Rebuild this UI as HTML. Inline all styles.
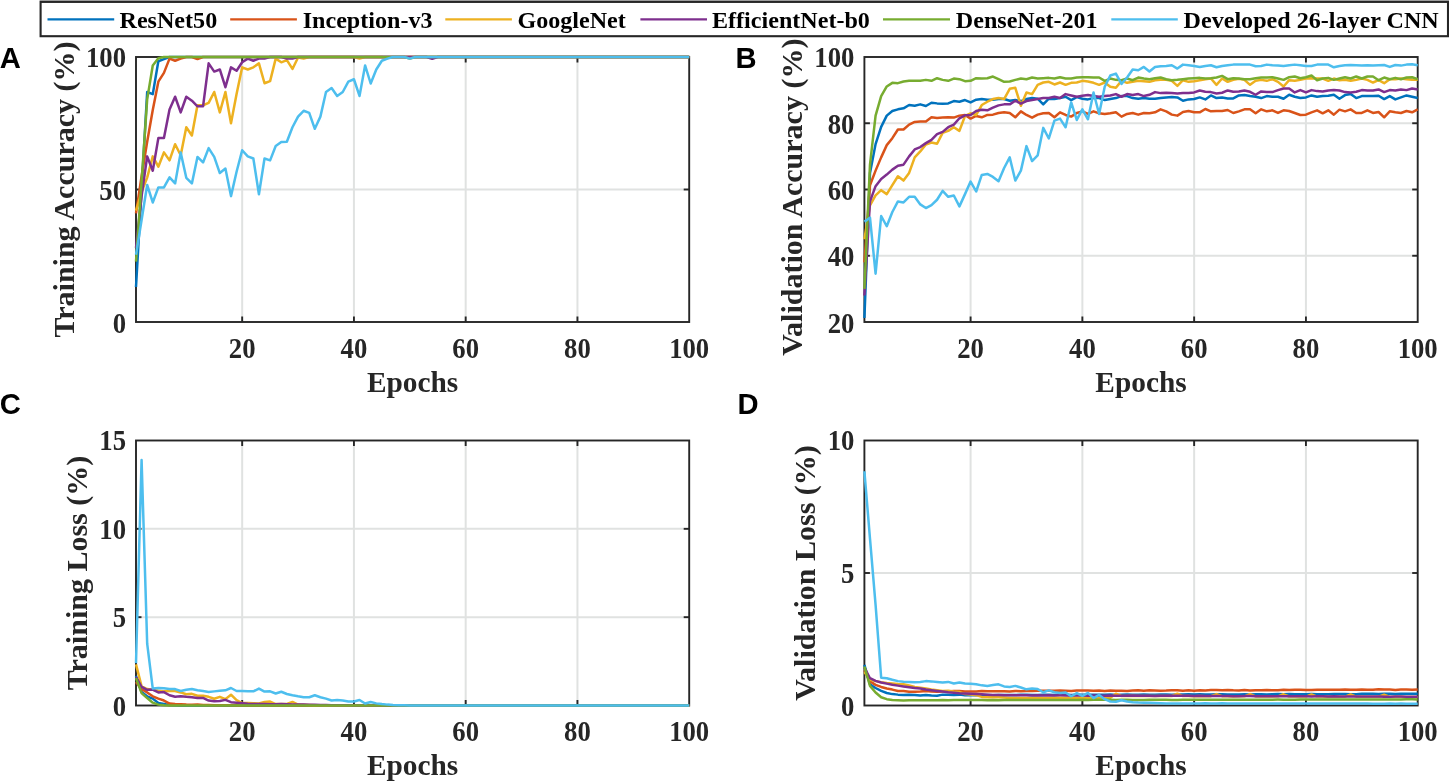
<!DOCTYPE html>
<html lang="en"><head><meta charset="utf-8"><title>Training curves</title>
<style>html,body{margin:0;padding:0;background:#fff}body{width:1449px;height:782px;overflow:hidden}svg{display:block}.t{font-family:"Liberation Serif","Times New Roman",serif;font-weight:bold;fill:#262626}.lg{font-family:"Liberation Serif","Times New Roman",serif;font-weight:bold;fill:#000}.pl{font-family:"Liberation Sans",Arial,sans-serif;font-weight:bold;fill:#000}</style></head><body>
<svg width="1449" height="782" viewBox="0 0 1449 782" style="will-change:transform">
<rect x="0" y="0" width="1449" height="782" fill="#fff"/>
<rect x="39.6" y="0" width="1409.4" height="1" fill="#b4b4b4"/><rect x="40.6" y="1.9" width="1407.4" height="34.3" fill="#fff" stroke="#262626" stroke-width="2.1"/>
<line x1="47.5" y1="19.3" x2="114.2" y2="19.3" stroke="#0072BD" stroke-width="2.2"/>
<text class="lg" x="119.5" y="27.5" font-size="24.1">ResNet50</text>
<line x1="230.2" y1="19.3" x2="296.9" y2="19.3" stroke="#D95319" stroke-width="2.2"/>
<text class="lg" x="302.7" y="27.5" font-size="24.1">Inception-v3</text>
<line x1="445.3" y1="19.3" x2="511.9" y2="19.3" stroke="#EDB120" stroke-width="2.2"/>
<text class="lg" x="517.4" y="27.5" font-size="24.1">GoogleNet</text>
<line x1="640.4" y1="19.3" x2="707.0" y2="19.3" stroke="#7E2F8E" stroke-width="2.2"/>
<text class="lg" x="712.0" y="27.5" font-size="24.1">EfficientNet-b0</text>
<line x1="883.0" y1="19.3" x2="950.0" y2="19.3" stroke="#77AC30" stroke-width="2.2"/>
<text class="lg" x="955.8" y="27.5" font-size="24.1">DenseNet-201</text>
<line x1="1111.3" y1="19.3" x2="1177.8" y2="19.3" stroke="#4DBEEE" stroke-width="2.2"/>
<text class="lg" x="1183.6" y="27.5" font-size="24.1">Developed 26-layer CNN</text>
<g>
<line x1="242.17" y1="57.00" x2="242.17" y2="322.00" stroke="#e0e2e1" stroke-width="2"/>
<line x1="353.93" y1="57.00" x2="353.93" y2="322.00" stroke="#e0e2e1" stroke-width="2"/>
<line x1="465.68" y1="57.00" x2="465.68" y2="322.00" stroke="#e0e2e1" stroke-width="2"/>
<line x1="577.44" y1="57.00" x2="577.44" y2="322.00" stroke="#e0e2e1" stroke-width="2"/>
<line x1="136.00" y1="189.50" x2="689.20" y2="189.50" stroke="#e0e2e1" stroke-width="2"/>
<rect x="136.00" y="57.00" width="553.20" height="265.00" fill="none" stroke="#262626" stroke-width="1.9"/>
<line x1="242.17" y1="322.00" x2="242.17" y2="316.50" stroke="#262626" stroke-width="1.9"/>
<line x1="242.17" y1="57.00" x2="242.17" y2="62.50" stroke="#262626" stroke-width="1.9"/>
<text class="t" transform="translate(242.17,357.90) scale(0.94,1)" font-size="28.4" text-anchor="middle">20</text>
<line x1="353.93" y1="322.00" x2="353.93" y2="316.50" stroke="#262626" stroke-width="1.9"/>
<line x1="353.93" y1="57.00" x2="353.93" y2="62.50" stroke="#262626" stroke-width="1.9"/>
<text class="t" transform="translate(353.93,357.90) scale(0.94,1)" font-size="28.4" text-anchor="middle">40</text>
<line x1="465.68" y1="322.00" x2="465.68" y2="316.50" stroke="#262626" stroke-width="1.9"/>
<line x1="465.68" y1="57.00" x2="465.68" y2="62.50" stroke="#262626" stroke-width="1.9"/>
<text class="t" transform="translate(465.68,357.90) scale(0.94,1)" font-size="28.4" text-anchor="middle">60</text>
<line x1="577.44" y1="322.00" x2="577.44" y2="316.50" stroke="#262626" stroke-width="1.9"/>
<line x1="577.44" y1="57.00" x2="577.44" y2="62.50" stroke="#262626" stroke-width="1.9"/>
<text class="t" transform="translate(577.44,357.90) scale(0.94,1)" font-size="28.4" text-anchor="middle">80</text>
<text class="t" transform="translate(689.20,357.90) scale(0.94,1)" font-size="28.4" text-anchor="middle">100</text>
<text class="t" transform="translate(126.00,332.70) scale(0.94,1)" font-size="28.4" text-anchor="end">0</text>
<line x1="136.00" y1="189.50" x2="141.50" y2="189.50" stroke="#262626" stroke-width="1.9"/>
<line x1="689.20" y1="189.50" x2="683.70" y2="189.50" stroke="#262626" stroke-width="1.9"/>
<text class="t" transform="translate(126.00,200.00) scale(0.94,1)" font-size="28.4" text-anchor="end">50</text>
<text class="t" transform="translate(126.00,67.00) scale(0.94,1)" font-size="28.4" text-anchor="end">100</text>
<polyline fill="none" stroke="#0072BD" stroke-width="2.5" stroke-linejoin="round" stroke-linecap="butt" points="136.00,287.02 141.59,189.50 147.18,91.98 152.76,94.10 158.35,61.24 163.94,59.12 169.53,57.00 175.12,57.00 180.70,57.00 186.29,57.00 191.88,57.00 197.47,57.00 203.05,57.00 208.64,57.00 214.23,57.00 219.82,57.00 225.41,57.00 230.99,57.00 236.58,57.00 242.17,57.00 247.76,57.00 253.35,57.00 258.93,57.00 264.52,57.00 270.11,57.00 275.70,57.00 281.28,57.00 286.87,57.00 292.46,57.00 298.05,57.00 303.64,57.00 309.22,57.00 314.81,57.00 320.40,57.00 325.99,57.00 331.58,57.00 337.16,57.00 342.75,57.00 348.34,57.00 353.93,57.00 359.52,57.00 365.10,57.00 370.69,57.00 376.28,57.00 381.87,57.00 387.45,57.00 393.04,57.00 398.63,57.00 404.22,57.00 409.81,57.00 415.39,57.00 420.98,57.00 426.57,57.00 432.16,57.00 437.75,57.00 443.33,57.00 448.92,57.00 454.51,57.00 460.10,57.00 465.68,57.00 471.27,57.00 476.86,57.00 482.45,57.00 488.04,57.00 493.62,57.00 499.21,57.00 504.80,57.00 510.39,57.00 515.98,57.00 521.56,57.00 527.15,57.00 532.74,57.00 538.33,57.00 543.92,57.00 549.50,57.00 555.09,57.00 560.68,57.00 566.27,57.00 571.85,57.00 577.44,57.00 583.03,57.00 588.62,57.00 594.21,57.00 599.79,57.00 605.38,57.00 610.97,57.00 616.56,57.00 622.15,57.00 627.73,57.00 633.32,57.00 638.91,57.00 644.50,57.00 650.08,57.00 655.67,57.00 661.26,57.00 666.85,57.00 672.44,57.00 678.02,57.00 683.61,57.00 689.20,57.00"/>
<polyline fill="none" stroke="#D95319" stroke-width="2.5" stroke-linejoin="round" stroke-linecap="butt" points="136.00,213.35 141.59,176.25 147.18,141.80 152.76,110.00 158.35,81.65 163.94,72.90 169.53,58.59 175.12,60.71 180.70,58.59 186.29,57.00 191.88,57.00 197.47,59.12 203.05,57.00 208.64,57.00 214.23,57.00 219.82,57.00 225.41,57.00 230.99,57.00 236.58,57.00 242.17,57.00 247.76,57.00 253.35,57.00 258.93,57.00 264.52,57.00 270.11,57.00 275.70,57.00 281.28,57.00 286.87,57.00 292.46,57.00 298.05,57.00 303.64,57.00 309.22,57.00 314.81,57.00 320.40,57.00 325.99,57.00 331.58,57.00 337.16,57.00 342.75,57.00 348.34,57.00 353.93,57.00 359.52,57.00 365.10,57.00 370.69,57.00 376.28,57.00 381.87,57.00 387.45,57.00 393.04,57.00 398.63,57.00 404.22,57.00 409.81,57.00 415.39,57.00 420.98,57.00 426.57,57.00 432.16,57.00 437.75,57.00 443.33,57.00 448.92,57.00 454.51,57.00 460.10,57.00 465.68,57.00 471.27,57.00 476.86,57.00 482.45,57.00 488.04,57.00 493.62,57.00 499.21,57.00 504.80,57.00 510.39,57.00 515.98,57.00 521.56,57.00 527.15,57.00 532.74,57.00 538.33,57.00 543.92,57.00 549.50,57.00 555.09,57.00 560.68,57.00 566.27,57.00 571.85,57.00 577.44,57.00 583.03,57.00 588.62,57.00 594.21,57.00 599.79,57.00 605.38,57.00 610.97,57.00 616.56,57.00 622.15,57.00 627.73,57.00 633.32,57.00 638.91,57.00 644.50,57.00 650.08,57.00 655.67,57.00 661.26,57.00 666.85,57.00 672.44,57.00 678.02,57.00 683.61,57.00 689.20,57.00"/>
<polyline fill="none" stroke="#EDB120" stroke-width="2.5" stroke-linejoin="round" stroke-linecap="butt" points="136.00,210.70 141.59,192.15 147.18,177.58 152.76,156.38 158.35,166.71 163.94,152.40 169.53,160.35 175.12,144.19 180.70,155.31 186.29,127.22 191.88,135.44 197.47,105.23 203.05,105.23 208.64,102.84 214.23,91.98 219.82,112.39 225.41,91.98 230.99,123.25 236.58,94.10 242.17,67.34 247.76,69.46 253.35,67.34 258.93,63.36 264.52,83.24 270.11,81.11 275.70,58.59 281.28,62.30 286.87,60.18 292.46,68.93 298.05,57.53 303.64,58.59 309.22,57.00 314.81,57.00 320.40,57.00 325.99,57.00 331.58,57.00 337.16,57.00 342.75,57.00 348.34,57.00 353.93,57.00 359.52,58.59 365.10,57.00 370.69,57.00 376.28,57.00 381.87,57.00 387.45,58.06 393.04,57.00 398.63,57.00 404.22,57.00 409.81,57.00 415.39,57.00 420.98,57.00 426.57,57.00 432.16,57.00 437.75,57.00 443.33,57.00 448.92,57.00 454.51,57.00 460.10,57.00 465.68,57.00 471.27,57.00 476.86,57.00 482.45,57.00 488.04,57.00 493.62,57.00 499.21,57.00 504.80,57.00 510.39,57.00 515.98,57.00 521.56,57.00 527.15,57.00 532.74,57.00 538.33,57.00 543.92,57.00 549.50,57.00 555.09,57.00 560.68,57.00 566.27,57.00 571.85,57.00 577.44,57.00 583.03,57.00 588.62,57.00 594.21,57.00 599.79,57.00 605.38,57.00 610.97,57.00 616.56,57.00 622.15,57.00 627.73,57.00 633.32,57.00 638.91,57.00 644.50,57.00 650.08,57.00 655.67,57.00 661.26,57.00 666.85,57.00 672.44,57.00 678.02,57.00 683.61,57.00 689.20,57.00"/>
<polyline fill="none" stroke="#7E2F8E" stroke-width="2.5" stroke-linejoin="round" stroke-linecap="butt" points="136.00,247.80 141.59,196.12 147.18,156.38 152.76,170.69 158.35,138.09 163.94,138.09 169.53,109.47 175.12,96.75 180.70,112.39 186.29,96.75 191.88,100.72 197.47,106.29 203.05,106.29 208.64,63.36 214.23,71.58 219.82,69.46 225.41,87.21 230.99,67.34 236.58,70.78 242.17,62.30 247.76,58.59 253.35,60.71 258.93,58.59 264.52,58.59 270.11,57.00 275.70,57.00 281.28,57.00 286.87,58.59 292.46,58.59 298.05,57.00 303.64,57.00 309.22,57.00 314.81,57.00 320.40,57.00 325.99,57.00 331.58,57.00 337.16,57.00 342.75,57.00 348.34,57.00 353.93,57.00 359.52,57.00 365.10,57.00 370.69,57.00 376.28,57.00 381.87,57.00 387.45,57.00 393.04,57.00 398.63,57.00 404.22,57.00 409.81,57.00 415.39,57.00 420.98,57.00 426.57,57.00 432.16,58.86 437.75,57.00 443.33,57.00 448.92,57.00 454.51,57.00 460.10,57.00 465.68,57.00 471.27,57.00 476.86,57.00 482.45,57.00 488.04,57.00 493.62,57.00 499.21,57.00 504.80,57.00 510.39,57.00 515.98,57.00 521.56,57.00 527.15,57.00 532.74,57.00 538.33,57.00 543.92,57.00 549.50,57.00 555.09,57.00 560.68,57.00 566.27,57.00 571.85,57.00 577.44,57.00 583.03,57.00 588.62,57.00 594.21,57.00 599.79,57.00 605.38,57.00 610.97,57.00 616.56,57.00 622.15,57.00 627.73,57.00 633.32,57.00 638.91,57.00 644.50,57.00 650.08,57.00 655.67,57.00 661.26,57.00 666.85,57.00 672.44,57.00 678.02,57.00 683.61,57.00 689.20,57.00"/>
<polyline fill="none" stroke="#77AC30" stroke-width="2.5" stroke-linejoin="round" stroke-linecap="butt" points="136.00,261.58 141.59,181.55 147.18,99.40 152.76,65.48 158.35,58.32 163.94,57.00 169.53,57.00 175.12,57.00 180.70,57.00 186.29,57.00 191.88,57.00 197.47,57.00 203.05,57.00 208.64,57.00 214.23,57.00 219.82,57.00 225.41,57.00 230.99,57.00 236.58,57.00 242.17,57.00 247.76,57.00 253.35,57.00 258.93,57.00 264.52,57.00 270.11,57.00 275.70,57.00 281.28,57.00 286.87,57.00 292.46,57.00 298.05,57.00 303.64,57.00 309.22,57.00 314.81,57.00 320.40,57.00 325.99,57.00 331.58,57.00 337.16,57.00 342.75,57.00 348.34,57.00 353.93,57.00 359.52,57.00 365.10,57.00 370.69,57.00 376.28,57.00 381.87,57.00 387.45,57.00 393.04,57.00 398.63,57.00 404.22,57.00 409.81,58.59 415.39,57.00 420.98,57.00 426.57,57.00 432.16,57.00 437.75,57.00 443.33,57.00 448.92,57.00 454.51,57.00 460.10,57.00 465.68,57.00 471.27,57.00 476.86,57.00 482.45,57.00 488.04,57.00 493.62,57.00 499.21,57.00 504.80,57.00 510.39,57.00 515.98,57.00 521.56,57.00 527.15,57.00 532.74,57.00 538.33,57.00 543.92,57.00 549.50,57.00 555.09,57.00 560.68,57.00 566.27,57.00 571.85,57.00 577.44,57.00 583.03,57.00 588.62,57.00 594.21,57.00 599.79,57.00 605.38,57.00 610.97,57.00 616.56,57.00 622.15,57.00 627.73,57.00 633.32,57.00 638.91,57.00 644.50,57.00 650.08,57.00 655.67,57.00 661.26,57.00 666.85,57.00 672.44,57.00 678.02,57.00 683.61,57.00 689.20,57.00"/>
<polyline fill="none" stroke="#4DBEEE" stroke-width="2.5" stroke-linejoin="round" stroke-linecap="butt" points="136.00,254.69 141.59,219.98 147.18,185.00 152.76,202.49 158.35,187.38 163.94,187.38 169.53,177.31 175.12,183.41 180.70,152.40 186.29,177.84 191.88,183.41 197.47,156.91 203.05,162.47 208.64,148.16 214.23,156.91 219.82,173.07 225.41,168.56 230.99,196.12 236.58,171.75 242.17,150.28 247.76,156.38 253.35,158.50 258.93,194.27 264.52,158.50 270.11,160.35 275.70,146.04 281.28,142.06 286.87,141.80 292.46,127.22 298.05,116.62 303.64,110.79 309.22,112.91 314.81,128.81 320.40,116.62 325.99,91.98 331.58,88.01 337.16,95.96 342.75,91.98 348.34,81.65 353.93,79.26 359.52,95.96 365.10,65.48 370.69,83.50 376.28,69.46 381.87,60.71 387.45,58.59 393.04,57.00 398.63,57.00 404.22,57.00 409.81,58.59 415.39,57.00 420.98,57.00 426.57,57.00 432.16,57.00 437.75,57.00 443.33,57.00 448.92,57.00 454.51,57.00 460.10,57.00 465.68,57.00 471.27,57.00 476.86,57.00 482.45,57.00 488.04,57.00 493.62,57.00 499.21,57.00 504.80,57.00 510.39,57.00 515.98,57.00 521.56,57.00 527.15,57.00 532.74,57.00 538.33,57.00 543.92,57.00 549.50,57.00 555.09,57.00 560.68,57.00 566.27,57.00 571.85,57.00 577.44,57.00 583.03,57.00 588.62,57.00 594.21,57.00 599.79,57.00 605.38,57.00 610.97,57.00 616.56,57.00 622.15,57.00 627.73,57.00 633.32,57.00 638.91,57.00 644.50,57.00 650.08,57.00 655.67,57.00 661.26,57.00 666.85,57.00 672.44,57.00 678.02,57.00 683.61,57.00 689.20,57.00"/>
<text class="t" transform="translate(412.60,391.70) scale(0.979,1)" font-size="30" text-anchor="middle">Epochs</text>
<text class="t" transform="translate(73.50,189.50) rotate(-90)" font-size="30" text-anchor="middle" letter-spacing="0" word-spacing="0">Training Accuracy (%)</text>
<text class="pl" x="-0.3" y="67.8" font-size="29.2">A</text>
</g>
<g>
<line x1="970.59" y1="57.00" x2="970.59" y2="322.00" stroke="#e0e2e1" stroke-width="2"/>
<line x1="1082.37" y1="57.00" x2="1082.37" y2="322.00" stroke="#e0e2e1" stroke-width="2"/>
<line x1="1194.14" y1="57.00" x2="1194.14" y2="322.00" stroke="#e0e2e1" stroke-width="2"/>
<line x1="1305.92" y1="57.00" x2="1305.92" y2="322.00" stroke="#e0e2e1" stroke-width="2"/>
<line x1="864.40" y1="255.75" x2="1417.70" y2="255.75" stroke="#e0e2e1" stroke-width="2"/>
<line x1="864.40" y1="189.50" x2="1417.70" y2="189.50" stroke="#e0e2e1" stroke-width="2"/>
<line x1="864.40" y1="123.25" x2="1417.70" y2="123.25" stroke="#e0e2e1" stroke-width="2"/>
<rect x="864.40" y="57.00" width="553.30" height="265.00" fill="none" stroke="#262626" stroke-width="1.9"/>
<line x1="970.59" y1="322.00" x2="970.59" y2="316.50" stroke="#262626" stroke-width="1.9"/>
<line x1="970.59" y1="57.00" x2="970.59" y2="62.50" stroke="#262626" stroke-width="1.9"/>
<text class="t" transform="translate(970.59,357.90) scale(0.94,1)" font-size="28.4" text-anchor="middle">20</text>
<line x1="1082.37" y1="322.00" x2="1082.37" y2="316.50" stroke="#262626" stroke-width="1.9"/>
<line x1="1082.37" y1="57.00" x2="1082.37" y2="62.50" stroke="#262626" stroke-width="1.9"/>
<text class="t" transform="translate(1082.37,357.90) scale(0.94,1)" font-size="28.4" text-anchor="middle">40</text>
<line x1="1194.14" y1="322.00" x2="1194.14" y2="316.50" stroke="#262626" stroke-width="1.9"/>
<line x1="1194.14" y1="57.00" x2="1194.14" y2="62.50" stroke="#262626" stroke-width="1.9"/>
<text class="t" transform="translate(1194.14,357.90) scale(0.94,1)" font-size="28.4" text-anchor="middle">60</text>
<line x1="1305.92" y1="322.00" x2="1305.92" y2="316.50" stroke="#262626" stroke-width="1.9"/>
<line x1="1305.92" y1="57.00" x2="1305.92" y2="62.50" stroke="#262626" stroke-width="1.9"/>
<text class="t" transform="translate(1305.92,357.90) scale(0.94,1)" font-size="28.4" text-anchor="middle">80</text>
<text class="t" transform="translate(1417.70,357.90) scale(0.94,1)" font-size="28.4" text-anchor="middle">100</text>
<text class="t" transform="translate(854.40,332.70) scale(0.94,1)" font-size="28.4" text-anchor="end">20</text>
<line x1="864.40" y1="255.75" x2="869.90" y2="255.75" stroke="#262626" stroke-width="1.9"/>
<line x1="1417.70" y1="255.75" x2="1412.20" y2="255.75" stroke="#262626" stroke-width="1.9"/>
<text class="t" transform="translate(854.40,266.25) scale(0.94,1)" font-size="28.4" text-anchor="end">40</text>
<line x1="864.40" y1="189.50" x2="869.90" y2="189.50" stroke="#262626" stroke-width="1.9"/>
<line x1="1417.70" y1="189.50" x2="1412.20" y2="189.50" stroke="#262626" stroke-width="1.9"/>
<text class="t" transform="translate(854.40,200.00) scale(0.94,1)" font-size="28.4" text-anchor="end">60</text>
<line x1="864.40" y1="123.25" x2="869.90" y2="123.25" stroke="#262626" stroke-width="1.9"/>
<line x1="1417.70" y1="123.25" x2="1412.20" y2="123.25" stroke="#262626" stroke-width="1.9"/>
<text class="t" transform="translate(854.40,133.75) scale(0.94,1)" font-size="28.4" text-anchor="end">80</text>
<text class="t" transform="translate(854.40,67.00) scale(0.94,1)" font-size="28.4" text-anchor="end">100</text>
<polyline fill="none" stroke="#0072BD" stroke-width="2.5" stroke-linejoin="round" stroke-linecap="butt" points="864.40,318.02 869.99,172.94 875.58,144.12 881.17,126.89 886.76,115.63 892.34,110.99 897.93,109.34 903.52,108.34 909.11,105.03 914.70,105.69 920.29,104.37 925.88,106.02 931.47,102.71 937.06,103.38 942.64,103.71 948.23,103.38 953.82,101.06 959.41,101.72 965.00,100.06 970.59,102.38 976.18,99.73 981.77,99.07 987.36,99.73 992.94,99.73 998.53,99.07 1004.12,99.07 1009.71,100.73 1015.30,100.06 1020.89,101.06 1026.48,99.07 1032.07,98.08 1037.66,98.74 1043.24,104.37 1048.83,98.74 1054.42,99.07 1060.01,98.08 1065.60,96.75 1071.19,100.06 1076.78,97.08 1082.37,98.74 1087.96,99.40 1093.54,98.08 1099.13,98.08 1104.72,100.06 1110.31,99.07 1115.90,98.08 1121.49,96.09 1127.08,96.09 1132.67,98.08 1138.26,98.74 1143.84,98.08 1149.43,98.74 1155.02,98.74 1160.61,98.08 1166.20,97.41 1171.79,97.08 1177.38,97.41 1182.97,100.73 1188.56,99.40 1194.14,99.07 1199.73,97.41 1205.32,99.40 1210.91,95.42 1216.50,98.08 1222.09,97.41 1227.68,98.41 1233.27,98.41 1238.86,95.42 1244.44,95.09 1250.03,96.09 1255.62,96.75 1261.21,98.08 1266.80,96.09 1272.39,96.75 1277.98,96.75 1283.57,98.74 1289.16,94.76 1294.74,96.75 1300.33,98.08 1305.92,97.41 1311.51,95.42 1317.10,96.75 1322.69,96.09 1328.28,95.76 1333.87,94.76 1339.46,98.74 1345.04,95.09 1350.63,94.10 1356.22,98.08 1361.81,96.09 1367.40,96.09 1372.99,96.09 1378.58,95.76 1384.17,99.07 1389.76,96.09 1395.34,99.40 1400.93,97.41 1406.52,95.42 1412.11,96.75 1417.70,98.08"/>
<polyline fill="none" stroke="#D95319" stroke-width="2.5" stroke-linejoin="round" stroke-linecap="butt" points="864.40,262.38 869.99,185.19 875.58,170.62 881.17,157.37 886.76,145.11 892.34,138.16 897.93,129.54 903.52,129.54 909.11,124.58 914.70,121.92 920.29,121.59 925.88,121.59 931.47,117.29 937.06,117.95 942.64,117.62 948.23,117.29 953.82,117.62 959.41,115.63 965.00,114.97 970.59,118.61 976.18,115.96 981.77,117.29 987.36,114.97 992.94,114.64 998.53,112.98 1004.12,112.32 1009.71,112.98 1015.30,117.29 1020.89,111.33 1026.48,114.97 1032.07,117.62 1037.66,114.64 1043.24,113.31 1048.83,112.98 1054.42,117.29 1060.01,112.32 1065.60,114.97 1071.19,116.62 1076.78,112.98 1082.37,111.33 1087.96,113.98 1093.54,111.33 1099.13,113.31 1104.72,113.98 1110.31,113.31 1115.90,112.32 1121.49,116.62 1127.08,113.98 1132.67,112.98 1138.26,114.64 1143.84,112.98 1149.43,113.31 1155.02,112.32 1160.61,109.34 1166.20,111.33 1171.79,114.64 1177.38,115.63 1182.97,111.99 1188.56,110.99 1194.14,112.32 1199.73,112.32 1205.32,109.01 1210.91,111.33 1216.50,110.99 1222.09,110.99 1227.68,110.00 1233.27,112.98 1238.86,111.33 1244.44,109.34 1250.03,109.34 1255.62,113.31 1261.21,109.34 1266.80,111.33 1272.39,110.33 1277.98,112.98 1283.57,110.33 1289.16,110.99 1294.74,112.98 1300.33,114.97 1305.92,114.64 1311.51,112.32 1317.10,110.33 1322.69,113.31 1328.28,110.33 1333.87,114.64 1339.46,109.67 1345.04,111.33 1350.63,109.34 1356.22,112.98 1361.81,112.98 1367.40,110.33 1372.99,112.98 1378.58,111.99 1384.17,117.29 1389.76,111.33 1395.34,112.32 1400.93,112.98 1406.52,110.99 1412.11,112.32 1417.70,109.34"/>
<polyline fill="none" stroke="#EDB120" stroke-width="2.5" stroke-linejoin="round" stroke-linecap="butt" points="864.40,239.19 869.99,205.40 875.58,195.46 881.17,190.16 886.76,194.14 892.34,185.19 897.93,176.25 903.52,180.56 909.11,172.94 914.70,157.37 920.29,151.41 925.88,144.45 931.47,142.46 937.06,143.79 942.64,132.86 948.23,130.87 953.82,127.23 959.41,130.87 965.00,115.96 970.59,113.31 976.18,114.97 981.77,105.03 987.36,101.72 992.94,99.07 998.53,98.08 1004.12,99.07 1009.71,88.80 1015.30,87.81 1020.89,105.69 1026.48,92.44 1032.07,94.10 1037.66,84.83 1043.24,82.51 1048.83,81.84 1054.42,84.49 1060.01,82.51 1065.60,84.83 1071.19,82.84 1076.78,82.51 1082.37,80.85 1087.96,81.51 1093.54,82.84 1099.13,84.83 1104.72,82.51 1110.31,86.81 1115.90,87.81 1121.49,80.85 1127.08,82.84 1132.67,81.84 1138.26,80.85 1143.84,81.18 1149.43,81.84 1155.02,80.19 1160.61,79.86 1166.20,79.86 1171.79,80.85 1177.38,85.82 1182.97,80.19 1188.56,81.84 1194.14,81.18 1199.73,80.19 1205.32,79.19 1210.91,78.53 1216.50,84.83 1222.09,78.53 1227.68,81.84 1233.27,79.86 1238.86,78.86 1244.44,79.86 1250.03,84.83 1255.62,80.85 1261.21,79.86 1266.80,80.85 1272.39,79.19 1277.98,81.84 1283.57,86.48 1289.16,80.19 1294.74,80.85 1300.33,79.86 1305.92,78.53 1311.51,78.20 1317.10,78.53 1322.69,78.53 1328.28,80.85 1333.87,78.53 1339.46,80.19 1345.04,79.86 1350.63,80.85 1356.22,79.86 1361.81,78.53 1367.40,79.86 1372.99,82.51 1378.58,80.19 1384.17,83.17 1389.76,79.19 1395.34,79.19 1400.93,78.53 1406.52,79.19 1412.11,79.86 1417.70,79.86"/>
<polyline fill="none" stroke="#7E2F8E" stroke-width="2.5" stroke-linejoin="round" stroke-linecap="butt" points="864.40,295.50 869.99,201.43 875.58,186.19 881.17,178.90 886.76,174.59 892.34,169.62 897.93,165.65 903.52,164.66 909.11,156.38 914.70,149.42 920.29,147.10 925.88,143.12 931.47,139.81 937.06,134.18 942.64,131.86 948.23,127.23 953.82,124.58 959.41,118.28 965.00,115.30 970.59,114.97 976.18,110.99 981.77,109.67 987.36,110.33 992.94,107.68 998.53,105.36 1004.12,104.37 1009.71,104.37 1015.30,100.73 1020.89,103.71 1026.48,101.06 1032.07,100.06 1037.66,99.07 1043.24,98.08 1048.83,98.08 1054.42,96.75 1060.01,98.08 1065.60,94.10 1071.19,95.42 1076.78,96.75 1082.37,95.76 1087.96,95.09 1093.54,96.09 1099.13,96.75 1104.72,96.09 1110.31,95.42 1115.90,94.10 1121.49,96.75 1127.08,94.10 1132.67,95.09 1138.26,94.10 1143.84,96.09 1149.43,94.76 1155.02,92.11 1160.61,93.11 1166.20,92.77 1171.79,93.11 1177.38,93.44 1182.97,93.11 1188.56,93.11 1194.14,92.44 1199.73,90.46 1205.32,91.78 1210.91,92.11 1216.50,93.44 1222.09,92.77 1227.68,90.46 1233.27,91.78 1238.86,91.45 1244.44,90.46 1250.03,91.78 1255.62,94.76 1261.21,91.45 1266.80,92.11 1272.39,92.11 1277.98,90.12 1283.57,88.47 1289.16,88.47 1294.74,92.44 1300.33,90.12 1305.92,92.44 1311.51,90.12 1317.10,91.12 1322.69,91.45 1328.28,90.46 1333.87,90.12 1339.46,90.46 1345.04,92.11 1350.63,92.44 1356.22,91.78 1361.81,90.12 1367.40,90.46 1372.99,90.46 1378.58,89.46 1384.17,92.11 1389.76,90.12 1395.34,90.46 1400.93,89.46 1406.52,90.12 1412.11,88.47 1417.70,89.46"/>
<polyline fill="none" stroke="#77AC30" stroke-width="2.5" stroke-linejoin="round" stroke-linecap="butt" points="864.40,288.88 869.99,164.66 875.58,115.63 881.17,96.09 886.76,86.48 892.34,82.84 897.93,83.17 903.52,81.51 909.11,80.85 914.70,80.85 920.29,80.85 925.88,79.86 931.47,80.85 937.06,78.20 942.64,79.86 948.23,80.85 953.82,78.53 959.41,79.19 965.00,81.18 970.59,80.85 976.18,78.20 981.77,78.53 987.36,78.20 992.94,76.54 998.53,79.19 1004.12,81.84 1009.71,81.51 1015.30,79.86 1020.89,78.53 1026.48,79.19 1032.07,77.54 1037.66,78.53 1043.24,78.20 1048.83,77.87 1054.42,78.53 1060.01,77.21 1065.60,78.53 1071.19,78.53 1076.78,77.54 1082.37,77.21 1087.96,77.21 1093.54,77.54 1099.13,77.54 1104.72,80.85 1110.31,78.53 1115.90,79.86 1121.49,80.19 1127.08,78.53 1132.67,80.19 1138.26,77.54 1143.84,78.53 1149.43,79.19 1155.02,78.20 1160.61,77.54 1166.20,79.19 1171.79,80.19 1177.38,79.86 1182.97,79.19 1188.56,78.53 1194.14,78.20 1199.73,77.87 1205.32,78.53 1210.91,78.20 1216.50,77.54 1222.09,75.88 1227.68,79.19 1233.27,78.20 1238.86,78.53 1244.44,79.19 1250.03,79.19 1255.62,78.20 1261.21,77.54 1266.80,77.54 1272.39,77.21 1277.98,78.53 1283.57,79.86 1289.16,77.21 1294.74,76.54 1300.33,78.20 1305.92,77.21 1311.51,75.55 1317.10,80.19 1322.69,78.53 1328.28,77.87 1333.87,79.86 1339.46,78.53 1345.04,77.21 1350.63,78.53 1356.22,76.54 1361.81,78.53 1367.40,76.54 1372.99,76.54 1378.58,80.19 1384.17,77.54 1389.76,79.19 1395.34,77.87 1400.93,79.19 1406.52,77.54 1412.11,77.21 1417.70,79.19"/>
<polyline fill="none" stroke="#4DBEEE" stroke-width="2.5" stroke-linejoin="round" stroke-linecap="butt" points="864.40,221.63 869.99,217.66 875.58,273.64 881.17,216.00 886.76,226.27 892.34,212.02 897.93,201.43 903.52,202.42 909.11,196.79 914.70,196.79 920.29,204.41 925.88,208.05 931.47,205.07 937.06,199.77 942.64,190.82 948.23,196.79 953.82,195.46 959.41,206.39 965.00,194.14 970.59,181.55 976.18,191.49 981.77,174.92 987.36,173.93 992.94,176.91 998.53,181.22 1004.12,167.97 1009.71,157.37 1015.30,180.56 1020.89,170.62 1026.48,146.11 1032.07,161.01 1037.66,155.38 1043.24,127.89 1048.83,138.49 1054.42,120.60 1060.01,118.61 1065.60,127.23 1071.19,102.38 1076.78,119.94 1082.37,109.34 1087.96,119.27 1093.54,92.44 1099.13,113.98 1104.72,86.81 1110.31,75.55 1115.90,73.56 1121.49,83.83 1127.08,77.54 1132.67,69.59 1138.26,70.25 1143.84,66.94 1149.43,71.58 1155.02,66.94 1160.61,66.27 1166.20,65.94 1171.79,65.28 1177.38,68.59 1182.97,64.62 1188.56,65.28 1194.14,65.94 1199.73,66.94 1205.32,65.94 1210.91,65.28 1216.50,67.27 1222.09,65.94 1227.68,65.28 1233.27,64.62 1238.86,64.62 1244.44,64.62 1250.03,64.62 1255.62,66.27 1261.21,65.94 1266.80,64.62 1272.39,65.28 1277.98,65.61 1283.57,65.94 1289.16,65.28 1294.74,64.62 1300.33,65.28 1305.92,65.94 1311.51,65.94 1317.10,64.62 1322.69,64.62 1328.28,64.62 1333.87,67.27 1339.46,65.94 1345.04,65.28 1350.63,64.95 1356.22,65.28 1361.81,65.61 1367.40,65.28 1372.99,65.61 1378.58,65.28 1384.17,64.95 1389.76,66.94 1395.34,64.95 1400.93,65.61 1406.52,64.62 1412.11,64.29 1417.70,65.28"/>
<text class="t" transform="translate(1141.05,391.70) scale(0.979,1)" font-size="30" text-anchor="middle">Epochs</text>
<text class="t" transform="translate(801.70,197.20) rotate(-90)" font-size="30" text-anchor="middle" letter-spacing="0" word-spacing="0">Validation Accuracy (%)</text>
<text class="pl" x="735.6" y="67.8" font-size="29.2">B</text>
</g>
<g>
<line x1="242.17" y1="440.50" x2="242.17" y2="705.50" stroke="#e0e2e1" stroke-width="2"/>
<line x1="353.93" y1="440.50" x2="353.93" y2="705.50" stroke="#e0e2e1" stroke-width="2"/>
<line x1="465.68" y1="440.50" x2="465.68" y2="705.50" stroke="#e0e2e1" stroke-width="2"/>
<line x1="577.44" y1="440.50" x2="577.44" y2="705.50" stroke="#e0e2e1" stroke-width="2"/>
<line x1="136.00" y1="617.17" x2="689.20" y2="617.17" stroke="#e0e2e1" stroke-width="2"/>
<line x1="136.00" y1="528.83" x2="689.20" y2="528.83" stroke="#e0e2e1" stroke-width="2"/>
<rect x="136.00" y="440.50" width="553.20" height="265.00" fill="none" stroke="#262626" stroke-width="1.9"/>
<line x1="242.17" y1="705.50" x2="242.17" y2="700.00" stroke="#262626" stroke-width="1.9"/>
<line x1="242.17" y1="440.50" x2="242.17" y2="446.00" stroke="#262626" stroke-width="1.9"/>
<text class="t" transform="translate(242.17,740.80) scale(0.94,1)" font-size="28.4" text-anchor="middle">20</text>
<line x1="353.93" y1="705.50" x2="353.93" y2="700.00" stroke="#262626" stroke-width="1.9"/>
<line x1="353.93" y1="440.50" x2="353.93" y2="446.00" stroke="#262626" stroke-width="1.9"/>
<text class="t" transform="translate(353.93,740.80) scale(0.94,1)" font-size="28.4" text-anchor="middle">40</text>
<line x1="465.68" y1="705.50" x2="465.68" y2="700.00" stroke="#262626" stroke-width="1.9"/>
<line x1="465.68" y1="440.50" x2="465.68" y2="446.00" stroke="#262626" stroke-width="1.9"/>
<text class="t" transform="translate(465.68,740.80) scale(0.94,1)" font-size="28.4" text-anchor="middle">60</text>
<line x1="577.44" y1="705.50" x2="577.44" y2="700.00" stroke="#262626" stroke-width="1.9"/>
<line x1="577.44" y1="440.50" x2="577.44" y2="446.00" stroke="#262626" stroke-width="1.9"/>
<text class="t" transform="translate(577.44,740.80) scale(0.94,1)" font-size="28.4" text-anchor="middle">80</text>
<text class="t" transform="translate(689.20,740.80) scale(0.94,1)" font-size="28.4" text-anchor="middle">100</text>
<text class="t" transform="translate(126.00,716.20) scale(0.94,1)" font-size="28.4" text-anchor="end">0</text>
<line x1="136.00" y1="617.17" x2="141.50" y2="617.17" stroke="#262626" stroke-width="1.9"/>
<line x1="689.20" y1="617.17" x2="683.70" y2="617.17" stroke="#262626" stroke-width="1.9"/>
<text class="t" transform="translate(126.00,627.07) scale(0.94,1)" font-size="28.4" text-anchor="end">5</text>
<line x1="136.00" y1="528.83" x2="141.50" y2="528.83" stroke="#262626" stroke-width="1.9"/>
<line x1="689.20" y1="528.83" x2="683.70" y2="528.83" stroke="#262626" stroke-width="1.9"/>
<text class="t" transform="translate(126.00,538.73) scale(0.94,1)" font-size="28.4" text-anchor="end">10</text>
<text class="t" transform="translate(126.00,450.40) scale(0.94,1)" font-size="28.4" text-anchor="end">15</text>
<polyline fill="none" stroke="#0072BD" stroke-width="2.5" stroke-linejoin="round" stroke-linecap="butt" points="136.00,675.82 141.59,691.90 147.18,696.31 152.76,698.61 158.35,703.03 163.94,703.91 169.53,704.97 175.12,705.32 180.70,705.50 186.29,705.50 191.88,705.50 197.47,705.50 203.05,705.50 208.64,705.50 214.23,705.50 219.82,705.50 225.41,705.50 230.99,705.50 236.58,705.50 242.17,705.50 247.76,705.50 253.35,705.50 258.93,705.50 264.52,705.50 270.11,705.50 275.70,705.50 281.28,705.50 286.87,705.50 292.46,705.50 298.05,705.50 303.64,705.50 309.22,705.50 314.81,705.50 320.40,705.50 325.99,705.50 331.58,705.50 337.16,705.50 342.75,705.50 348.34,705.50 353.93,705.50 359.52,705.50 365.10,705.50 370.69,705.50 376.28,705.50 381.87,705.50 387.45,705.50 393.04,705.50 398.63,705.50 404.22,705.50 409.81,705.50 415.39,705.50 420.98,705.50 426.57,705.50 432.16,705.50 437.75,705.50 443.33,705.50 448.92,705.50 454.51,705.50 460.10,705.50 465.68,705.50 471.27,705.50 476.86,705.50 482.45,705.50 488.04,705.50 493.62,705.50 499.21,705.50 504.80,705.50 510.39,705.50 515.98,705.50 521.56,705.50 527.15,705.50 532.74,705.50 538.33,705.50 543.92,705.50 549.50,705.50 555.09,705.50 560.68,705.50 566.27,705.50 571.85,705.50 577.44,705.50 583.03,705.50 588.62,705.50 594.21,705.50 599.79,705.50 605.38,705.50 610.97,705.50 616.56,705.50 622.15,705.50 627.73,705.50 633.32,705.50 638.91,705.50 644.50,705.50 650.08,705.50 655.67,705.50 661.26,705.50 666.85,705.50 672.44,705.50 678.02,705.50 683.61,705.50 689.20,705.50"/>
<polyline fill="none" stroke="#D95319" stroke-width="2.5" stroke-linejoin="round" stroke-linecap="butt" points="136.00,682.00 141.59,689.25 147.18,692.43 152.76,696.31 158.35,698.61 163.94,700.55 169.53,703.56 175.12,704.09 180.70,704.26 186.29,704.62 191.88,704.71 197.47,704.44 203.05,704.97 208.64,704.97 214.23,705.15 219.82,705.15 225.41,705.32 230.99,705.32 236.58,705.50 242.17,705.50 247.76,705.50 253.35,705.50 258.93,705.50 264.52,705.50 270.11,705.50 275.70,705.50 281.28,705.50 286.87,705.50 292.46,705.50 298.05,705.50 303.64,705.50 309.22,705.50 314.81,705.50 320.40,705.50 325.99,705.50 331.58,705.50 337.16,705.50 342.75,705.50 348.34,705.50 353.93,705.50 359.52,705.50 365.10,705.50 370.69,705.50 376.28,705.50 381.87,705.50 387.45,705.50 393.04,705.50 398.63,705.50 404.22,705.50 409.81,705.50 415.39,705.50 420.98,705.50 426.57,705.50 432.16,705.50 437.75,705.50 443.33,705.50 448.92,705.50 454.51,705.50 460.10,705.50 465.68,705.50 471.27,705.50 476.86,705.50 482.45,705.50 488.04,705.50 493.62,705.50 499.21,705.50 504.80,705.50 510.39,705.50 515.98,705.50 521.56,705.50 527.15,705.50 532.74,705.50 538.33,705.50 543.92,705.50 549.50,705.50 555.09,705.50 560.68,705.50 566.27,705.50 571.85,705.50 577.44,705.50 583.03,705.50 588.62,705.50 594.21,705.50 599.79,705.50 605.38,705.50 610.97,705.50 616.56,705.50 622.15,705.50 627.73,705.50 633.32,705.50 638.91,705.50 644.50,705.50 650.08,705.50 655.67,705.50 661.26,705.50 666.85,705.50 672.44,705.50 678.02,705.50 683.61,705.50 689.20,705.50"/>
<polyline fill="none" stroke="#EDB120" stroke-width="2.5" stroke-linejoin="round" stroke-linecap="butt" points="136.00,664.34 141.59,686.42 147.18,689.07 152.76,689.78 158.35,690.84 163.94,691.37 169.53,691.01 175.12,691.01 180.70,692.43 186.29,694.19 191.88,693.84 197.47,695.78 203.05,695.78 208.64,696.84 214.23,698.79 219.82,696.84 225.41,699.14 230.99,694.72 236.58,700.20 242.17,703.03 247.76,703.03 253.35,703.20 258.93,703.56 264.52,701.97 270.11,701.61 275.70,704.09 281.28,704.09 286.87,703.91 292.46,701.97 298.05,704.62 303.64,704.79 309.22,704.97 314.81,705.15 320.40,705.32 325.99,705.50 331.58,705.50 337.16,705.50 342.75,705.50 348.34,705.50 353.93,705.50 359.52,705.50 365.10,705.50 370.69,705.50 376.28,705.50 381.87,705.50 387.45,705.50 393.04,705.50 398.63,705.50 404.22,705.50 409.81,705.50 415.39,705.50 420.98,705.50 426.57,705.50 432.16,705.50 437.75,705.50 443.33,705.50 448.92,705.50 454.51,705.50 460.10,705.50 465.68,705.50 471.27,705.50 476.86,705.50 482.45,705.50 488.04,705.50 493.62,705.50 499.21,705.50 504.80,705.50 510.39,705.50 515.98,705.50 521.56,705.50 527.15,705.50 532.74,705.50 538.33,705.50 543.92,705.50 549.50,705.50 555.09,705.50 560.68,705.50 566.27,705.50 571.85,705.50 577.44,705.50 583.03,705.50 588.62,705.50 594.21,705.50 599.79,705.50 605.38,705.50 610.97,705.50 616.56,705.50 622.15,705.50 627.73,705.50 633.32,705.50 638.91,705.50 644.50,705.50 650.08,705.50 655.67,705.50 661.26,705.50 666.85,705.50 672.44,705.50 678.02,705.50 683.61,705.50 689.20,705.50"/>
<polyline fill="none" stroke="#7E2F8E" stroke-width="2.5" stroke-linejoin="round" stroke-linecap="butt" points="136.00,677.23 141.59,686.95 147.18,689.78 152.76,689.60 158.35,692.43 163.94,692.07 169.53,695.25 175.12,696.67 180.70,696.31 186.29,696.84 191.88,697.20 197.47,697.90 203.05,697.90 208.64,700.55 214.23,701.26 219.82,701.08 225.41,699.85 230.99,702.14 236.58,702.67 242.17,703.20 247.76,703.73 253.35,703.91 258.93,704.09 264.52,704.09 270.11,704.26 275.70,704.26 281.28,704.09 286.87,704.26 292.46,704.44 298.05,704.62 303.64,704.62 309.22,704.79 314.81,704.79 320.40,704.97 325.99,704.97 331.58,705.15 337.16,705.15 342.75,705.32 348.34,705.32 353.93,705.50 359.52,705.50 365.10,705.50 370.69,705.50 376.28,705.50 381.87,705.50 387.45,705.50 393.04,705.50 398.63,705.50 404.22,705.50 409.81,705.50 415.39,705.50 420.98,705.50 426.57,705.50 432.16,705.50 437.75,705.50 443.33,705.50 448.92,705.50 454.51,705.50 460.10,705.50 465.68,705.50 471.27,705.50 476.86,705.50 482.45,705.50 488.04,705.50 493.62,705.50 499.21,705.50 504.80,705.50 510.39,705.50 515.98,705.50 521.56,705.50 527.15,705.50 532.74,705.50 538.33,705.50 543.92,705.50 549.50,705.50 555.09,705.50 560.68,705.50 566.27,705.50 571.85,705.50 577.44,705.50 583.03,705.50 588.62,705.50 594.21,705.50 599.79,705.50 605.38,705.50 610.97,705.50 616.56,705.50 622.15,705.50 627.73,705.50 633.32,705.50 638.91,705.50 644.50,705.50 650.08,705.50 655.67,705.50 661.26,705.50 666.85,705.50 672.44,705.50 678.02,705.50 683.61,705.50 689.20,705.50"/>
<polyline fill="none" stroke="#77AC30" stroke-width="2.5" stroke-linejoin="round" stroke-linecap="butt" points="136.00,678.12 141.59,693.13 147.18,698.08 152.76,702.67 158.35,704.62 163.94,705.15 169.53,705.50 175.12,705.50 180.70,705.50 186.29,705.50 191.88,705.50 197.47,705.50 203.05,705.50 208.64,705.50 214.23,705.50 219.82,705.50 225.41,705.50 230.99,705.50 236.58,705.50 242.17,705.50 247.76,705.50 253.35,705.50 258.93,705.50 264.52,705.50 270.11,705.50 275.70,705.50 281.28,705.50 286.87,705.50 292.46,705.50 298.05,705.50 303.64,705.50 309.22,705.50 314.81,705.50 320.40,705.50 325.99,705.50 331.58,705.50 337.16,705.50 342.75,705.50 348.34,705.50 353.93,705.50 359.52,705.50 365.10,705.50 370.69,705.50 376.28,705.50 381.87,705.50 387.45,705.50 393.04,705.50 398.63,705.50 404.22,705.50 409.81,705.50 415.39,705.50 420.98,705.50 426.57,705.50 432.16,705.50 437.75,705.50 443.33,705.50 448.92,705.50 454.51,705.50 460.10,705.50 465.68,705.50 471.27,705.50 476.86,705.50 482.45,705.50 488.04,705.50 493.62,705.50 499.21,705.50 504.80,705.50 510.39,705.50 515.98,705.50 521.56,705.50 527.15,705.50 532.74,705.50 538.33,705.50 543.92,705.50 549.50,705.50 555.09,705.50 560.68,705.50 566.27,705.50 571.85,705.50 577.44,705.50 583.03,705.50 588.62,705.50 594.21,705.50 599.79,705.50 605.38,705.50 610.97,705.50 616.56,705.50 622.15,705.50 627.73,705.50 633.32,705.50 638.91,705.50 644.50,705.50 650.08,705.50 655.67,705.50 661.26,705.50 666.85,705.50 672.44,705.50 678.02,705.50 683.61,705.50 689.20,705.50"/>
<polyline fill="none" stroke="#4DBEEE" stroke-width="2.5" stroke-linejoin="round" stroke-linecap="butt" points="136.00,663.10 141.59,459.93 147.18,643.67 152.76,688.54 158.35,688.01 163.94,688.36 169.53,688.89 175.12,689.07 180.70,691.01 186.29,689.78 191.88,689.07 197.47,690.31 203.05,691.01 208.64,691.90 214.23,691.37 219.82,690.84 225.41,690.31 230.99,688.01 236.58,691.01 242.17,691.01 247.76,691.37 253.35,691.37 258.93,688.54 264.52,691.54 270.11,691.37 275.70,693.49 281.28,691.72 286.87,694.02 292.46,695.25 298.05,696.31 303.64,697.20 309.22,697.20 314.81,695.25 320.40,697.20 325.99,698.61 331.58,700.55 337.16,700.02 342.75,700.55 348.34,701.44 353.93,701.44 359.52,700.02 365.10,703.56 370.69,701.97 376.28,703.38 381.87,704.09 387.45,704.62 393.04,704.97 398.63,705.15 404.22,705.32 409.81,705.50 415.39,705.50 420.98,705.50 426.57,705.50 432.16,705.50 437.75,705.50 443.33,705.50 448.92,705.50 454.51,705.50 460.10,705.50 465.68,705.50 471.27,705.50 476.86,705.50 482.45,705.50 488.04,705.50 493.62,705.50 499.21,705.50 504.80,705.50 510.39,705.50 515.98,705.50 521.56,705.50 527.15,705.50 532.74,705.50 538.33,705.50 543.92,705.50 549.50,705.50 555.09,705.50 560.68,705.50 566.27,705.50 571.85,705.50 577.44,705.50 583.03,705.50 588.62,705.50 594.21,705.50 599.79,705.50 605.38,705.50 610.97,705.50 616.56,705.50 622.15,705.50 627.73,705.50 633.32,705.50 638.91,705.50 644.50,705.50 650.08,705.50 655.67,705.50 661.26,705.50 666.85,705.50 672.44,705.50 678.02,705.50 683.61,705.50 689.20,705.50"/>
<text class="t" transform="translate(412.60,775.20) scale(0.979,1)" font-size="30" text-anchor="middle">Epochs</text>
<text class="t" transform="translate(87.20,573.00) rotate(-90)" font-size="30" text-anchor="middle" letter-spacing="0" word-spacing="0">Training Loss (%)</text>
<text class="pl" x="-0.3" y="413.9" font-size="29.2">C</text>
</g>
<g>
<line x1="970.59" y1="440.50" x2="970.59" y2="705.50" stroke="#e0e2e1" stroke-width="2"/>
<line x1="1082.37" y1="440.50" x2="1082.37" y2="705.50" stroke="#e0e2e1" stroke-width="2"/>
<line x1="1194.14" y1="440.50" x2="1194.14" y2="705.50" stroke="#e0e2e1" stroke-width="2"/>
<line x1="1305.92" y1="440.50" x2="1305.92" y2="705.50" stroke="#e0e2e1" stroke-width="2"/>
<line x1="864.40" y1="573.00" x2="1417.70" y2="573.00" stroke="#e0e2e1" stroke-width="2"/>
<rect x="864.40" y="440.50" width="553.30" height="265.00" fill="none" stroke="#262626" stroke-width="1.9"/>
<line x1="970.59" y1="705.50" x2="970.59" y2="700.00" stroke="#262626" stroke-width="1.9"/>
<line x1="970.59" y1="440.50" x2="970.59" y2="446.00" stroke="#262626" stroke-width="1.9"/>
<text class="t" transform="translate(970.59,740.80) scale(0.94,1)" font-size="28.4" text-anchor="middle">20</text>
<line x1="1082.37" y1="705.50" x2="1082.37" y2="700.00" stroke="#262626" stroke-width="1.9"/>
<line x1="1082.37" y1="440.50" x2="1082.37" y2="446.00" stroke="#262626" stroke-width="1.9"/>
<text class="t" transform="translate(1082.37,740.80) scale(0.94,1)" font-size="28.4" text-anchor="middle">40</text>
<line x1="1194.14" y1="705.50" x2="1194.14" y2="700.00" stroke="#262626" stroke-width="1.9"/>
<line x1="1194.14" y1="440.50" x2="1194.14" y2="446.00" stroke="#262626" stroke-width="1.9"/>
<text class="t" transform="translate(1194.14,740.80) scale(0.94,1)" font-size="28.4" text-anchor="middle">60</text>
<line x1="1305.92" y1="705.50" x2="1305.92" y2="700.00" stroke="#262626" stroke-width="1.9"/>
<line x1="1305.92" y1="440.50" x2="1305.92" y2="446.00" stroke="#262626" stroke-width="1.9"/>
<text class="t" transform="translate(1305.92,740.80) scale(0.94,1)" font-size="28.4" text-anchor="middle">80</text>
<text class="t" transform="translate(1417.70,740.80) scale(0.94,1)" font-size="28.4" text-anchor="middle">100</text>
<text class="t" transform="translate(854.40,716.20) scale(0.94,1)" font-size="28.4" text-anchor="end">0</text>
<line x1="864.40" y1="573.00" x2="869.90" y2="573.00" stroke="#262626" stroke-width="1.9"/>
<line x1="1417.70" y1="573.00" x2="1412.20" y2="573.00" stroke="#262626" stroke-width="1.9"/>
<text class="t" transform="translate(854.40,582.90) scale(0.94,1)" font-size="28.4" text-anchor="end">5</text>
<text class="t" transform="translate(854.40,450.40) scale(0.94,1)" font-size="28.4" text-anchor="end">10</text>
<polyline fill="none" stroke="#0072BD" stroke-width="2.5" stroke-linejoin="round" stroke-linecap="butt" points="864.40,664.96 869.99,684.30 875.58,688.01 881.17,690.92 886.76,693.04 892.34,694.11 897.93,694.63 903.52,694.90 909.11,694.63 914.70,694.90 920.29,695.56 925.88,694.90 931.47,695.43 937.06,695.70 942.64,694.63 948.23,694.63 953.82,694.90 959.41,694.63 965.00,695.16 970.59,694.90 976.18,695.16 981.77,694.90 987.36,694.98 992.94,695.20 998.53,694.95 1004.12,695.00 1009.71,694.90 1015.30,695.02 1020.89,694.85 1026.48,694.82 1032.07,695.11 1037.66,695.08 1043.24,694.80 1048.83,694.67 1054.42,694.95 1060.01,694.85 1065.60,694.78 1071.19,694.88 1076.78,694.85 1082.37,694.85 1087.96,694.81 1093.54,694.70 1099.13,694.81 1104.72,694.76 1110.31,694.58 1115.90,694.88 1121.49,694.64 1127.08,694.55 1132.67,694.72 1138.26,694.74 1143.84,694.48 1149.43,694.70 1155.02,694.71 1160.61,694.59 1166.20,694.46 1171.79,694.70 1177.38,694.59 1182.97,694.57 1188.56,694.34 1194.14,694.49 1199.73,694.30 1205.32,694.58 1210.91,694.49 1216.50,694.34 1222.09,694.23 1227.68,694.40 1233.27,694.48 1238.86,694.51 1244.44,694.32 1250.03,694.45 1255.62,694.17 1261.21,694.14 1266.80,694.40 1272.39,694.35 1277.98,694.11 1283.57,694.16 1289.16,694.08 1294.74,694.26 1300.33,694.33 1305.92,694.25 1311.51,694.02 1317.10,694.23 1322.69,694.18 1328.28,694.14 1333.87,694.12 1339.46,694.11 1345.04,693.88 1350.63,694.18 1356.22,694.23 1361.81,693.82 1367.40,693.83 1372.99,693.77 1378.58,693.99 1384.17,693.76 1389.76,693.75 1395.34,694.03 1400.93,693.80 1406.52,693.74 1412.11,693.80 1417.70,693.85"/>
<polyline fill="none" stroke="#D95319" stroke-width="2.5" stroke-linejoin="round" stroke-linecap="butt" points="864.40,670.25 869.99,681.38 875.58,684.83 881.17,686.95 886.76,688.54 892.34,689.60 897.93,690.92 903.52,690.92 909.11,691.72 914.70,691.72 920.29,691.46 925.88,690.92 931.47,691.46 937.06,691.72 942.64,691.46 948.23,691.46 953.82,690.92 959.41,690.92 965.00,691.46 970.59,691.46 976.18,691.46 981.77,690.92 987.36,691.19 992.94,691.19 998.53,691.19 1004.12,691.19 1009.71,691.46 1015.30,690.92 1020.89,691.15 1026.48,690.98 1032.07,690.96 1037.66,690.73 1043.24,690.85 1048.83,690.67 1054.42,690.70 1060.01,690.59 1065.60,690.77 1071.19,691.07 1076.78,690.61 1082.37,690.52 1087.96,690.54 1093.54,690.73 1099.13,690.61 1104.72,690.91 1110.31,690.49 1115.90,690.64 1121.49,690.80 1127.08,690.92 1132.67,690.39 1138.26,690.28 1143.84,690.83 1149.43,690.36 1155.02,690.58 1160.61,690.73 1166.20,690.61 1171.79,690.29 1177.38,690.20 1182.97,690.71 1188.56,690.32 1194.14,690.66 1199.73,690.21 1205.32,690.44 1210.91,690.06 1216.50,689.98 1222.09,690.26 1227.68,689.92 1233.27,690.34 1238.86,690.47 1244.44,690.11 1250.03,690.45 1255.62,690.32 1261.21,690.17 1266.80,690.02 1272.39,690.28 1277.98,690.33 1283.57,689.79 1289.16,690.12 1294.74,689.68 1300.33,689.70 1305.92,690.01 1311.51,689.93 1317.10,689.87 1322.69,689.77 1328.28,689.78 1333.87,689.78 1339.46,689.72 1345.04,689.50 1350.63,689.75 1356.22,689.78 1361.81,689.57 1367.40,689.86 1372.99,689.79 1378.58,689.34 1384.17,689.61 1389.76,689.57 1395.34,689.89 1400.93,689.61 1406.52,689.48 1412.11,689.82 1417.70,689.42"/>
<polyline fill="none" stroke="#EDB120" stroke-width="2.5" stroke-linejoin="round" stroke-linecap="butt" points="864.40,672.11 869.99,679.79 875.58,681.12 881.17,682.18 886.76,682.98 892.34,683.50 897.93,684.03 903.52,684.30 909.11,685.36 914.70,686.95 920.29,687.75 925.88,688.54 931.47,689.60 937.06,690.26 942.64,690.92 948.23,690.66 953.82,691.46 959.41,691.99 965.00,694.11 970.59,694.63 976.18,695.16 981.77,696.89 987.36,697.28 992.94,696.89 998.53,697.28 1004.12,697.55 1009.71,698.08 1015.30,698.08 1020.89,698.05 1026.48,698.01 1032.07,698.02 1037.66,697.89 1043.24,697.96 1048.83,697.98 1054.42,697.82 1060.01,697.73 1065.60,697.92 1071.19,697.78 1076.78,697.86 1082.37,697.71 1087.96,697.79 1093.54,697.88 1099.13,697.88 1104.72,697.93 1110.31,697.78 1115.90,693.77 1121.49,695.98 1127.08,696.00 1132.67,695.81 1138.26,696.02 1143.84,696.08 1149.43,695.88 1155.02,696.10 1160.61,695.92 1166.20,695.99 1171.79,695.97 1177.38,693.76 1182.97,696.08 1188.56,696.04 1194.14,696.26 1199.73,696.09 1205.32,696.17 1210.91,696.14 1216.50,694.12 1222.09,696.17 1227.68,696.14 1233.27,696.40 1238.86,696.35 1244.44,696.30 1250.03,694.05 1255.62,696.43 1261.21,696.46 1266.80,696.47 1272.39,696.39 1277.98,696.37 1283.57,694.29 1289.16,696.52 1294.74,696.53 1300.33,696.56 1305.92,696.56 1311.51,694.47 1317.10,696.58 1322.69,696.48 1328.28,696.65 1333.87,696.58 1339.46,696.75 1345.04,696.63 1350.63,694.44 1356.22,696.68 1361.81,696.74 1367.40,696.77 1372.99,696.75 1378.58,696.70 1384.17,694.72 1389.76,696.95 1395.34,696.80 1400.93,696.78 1406.52,696.90 1412.11,696.94 1417.70,696.89"/>
<polyline fill="none" stroke="#7E2F8E" stroke-width="2.5" stroke-linejoin="round" stroke-linecap="butt" points="864.40,667.61 869.99,678.21 875.58,680.86 881.17,682.45 886.76,683.64 892.34,684.83 897.93,685.62 903.52,686.42 909.11,687.22 914.70,688.01 920.29,688.54 925.88,689.60 931.47,690.26 937.06,690.92 942.64,691.46 948.23,692.25 953.82,692.78 959.41,693.31 965.00,693.58 970.59,693.84 976.18,694.11 981.77,694.37 987.36,694.63 992.94,694.90 998.53,694.90 1004.12,695.16 1009.71,695.16 1015.30,695.16 1020.89,695.19 1026.48,695.24 1032.07,695.40 1037.66,695.37 1043.24,695.48 1048.83,695.32 1054.42,695.38 1060.01,695.34 1065.60,695.38 1071.19,695.44 1076.78,695.44 1082.37,695.50 1087.96,695.65 1093.54,695.54 1099.13,695.71 1104.72,695.70 1110.31,695.55 1115.90,695.76 1121.49,695.77 1127.08,695.79 1132.67,695.60 1138.26,695.81 1143.84,695.87 1149.43,695.67 1155.02,695.88 1160.61,695.71 1166.20,695.78 1171.79,695.75 1177.38,695.74 1182.97,695.86 1188.56,695.83 1194.14,696.05 1199.73,695.87 1205.32,695.96 1210.91,695.93 1216.50,696.11 1222.09,695.96 1227.68,695.93 1233.27,696.18 1238.86,696.13 1244.44,696.09 1250.03,696.04 1255.62,696.22 1261.21,696.25 1266.80,696.25 1272.39,696.18 1277.98,696.16 1283.57,696.28 1289.16,696.30 1294.74,696.32 1300.33,696.35 1305.92,696.35 1311.51,696.46 1317.10,696.37 1322.69,696.27 1328.28,696.43 1333.87,696.37 1339.46,696.54 1345.04,696.42 1350.63,696.42 1356.22,696.47 1361.81,696.53 1367.40,696.56 1372.99,696.53 1378.58,696.49 1384.17,696.71 1389.76,696.74 1395.34,696.59 1400.93,696.56 1406.52,696.69 1412.11,696.73 1417.70,696.68"/>
<polyline fill="none" stroke="#77AC30" stroke-width="2.5" stroke-linejoin="round" stroke-linecap="butt" points="864.40,666.54 869.99,685.89 875.58,692.51 881.17,697.28 886.76,699.14 892.34,699.93 897.93,700.20 903.52,700.47 909.11,700.24 914.70,700.23 920.29,700.24 925.88,700.27 931.47,700.15 937.06,700.20 942.64,700.08 948.23,700.24 953.82,700.05 959.41,700.08 965.00,700.02 970.59,700.02 976.18,700.01 981.77,700.07 987.36,700.18 992.94,700.02 998.53,700.13 1004.12,700.10 1009.71,700.01 1015.30,700.03 1020.89,700.05 1026.48,699.93 1032.07,699.99 1037.66,700.03 1043.24,700.05 1048.83,699.91 1054.42,699.98 1060.01,699.91 1065.60,699.99 1071.19,700.01 1076.78,699.93 1082.37,699.86 1087.96,699.99 1093.54,699.85 1099.13,699.82 1104.72,699.83 1110.31,699.82 1115.90,699.98 1121.49,699.84 1127.08,699.79 1132.67,699.95 1138.26,699.89 1143.84,699.89 1149.43,699.82 1155.02,699.84 1160.61,699.82 1166.20,699.74 1171.79,699.90 1177.38,699.88 1182.97,699.86 1188.56,699.85 1194.14,699.85 1199.73,699.65 1205.32,699.67 1210.91,699.82 1216.50,699.72 1222.09,699.76 1227.68,699.75 1233.27,699.73 1238.86,699.66 1244.44,699.66 1250.03,699.70 1255.62,699.73 1261.21,699.69 1266.80,699.73 1272.39,699.63 1277.98,699.58 1283.57,699.65 1289.16,699.70 1294.74,699.67 1300.33,699.62 1305.92,699.56 1311.51,699.52 1317.10,699.59 1322.69,699.50 1328.28,699.53 1333.87,699.56 1339.46,699.56 1345.04,699.53 1350.63,699.47 1356.22,699.53 1361.81,699.46 1367.40,699.50 1372.99,699.54 1378.58,699.47 1384.17,699.42 1389.76,699.55 1395.34,699.46 1400.93,699.46 1406.52,699.35 1412.11,699.33 1417.70,699.44"/>
<polyline fill="none" stroke="#4DBEEE" stroke-width="2.5" stroke-linejoin="round" stroke-linecap="butt" points="864.40,471.24 869.99,538.55 875.58,604.80 881.17,677.67 886.76,678.21 892.34,679.79 897.93,681.12 903.52,681.65 909.11,681.91 914.70,682.18 920.29,681.91 925.88,681.12 931.47,681.38 937.06,681.91 942.64,682.45 948.23,681.91 953.82,683.50 959.41,682.45 965.00,683.50 970.59,683.77 976.18,684.30 981.77,685.36 987.36,685.89 992.94,685.10 998.53,684.30 1004.12,686.42 1009.71,686.95 1015.30,685.89 1020.89,687.48 1026.48,689.34 1032.07,688.54 1037.66,689.07 1043.24,692.25 1048.83,690.39 1054.42,692.25 1060.01,693.04 1065.60,692.51 1071.19,696.23 1076.78,693.04 1082.37,695.96 1087.96,692.91 1093.54,698.08 1099.13,694.90 1104.72,699.14 1110.31,701.52 1115.90,701.79 1121.49,700.20 1127.08,701.52 1132.67,702.19 1138.26,702.59 1143.84,702.85 1149.43,702.85 1155.02,703.12 1160.61,703.30 1166.20,703.44 1171.79,703.38 1177.38,703.42 1182.97,703.38 1188.56,703.38 1194.14,703.50 1199.73,703.52 1205.32,703.35 1210.91,703.48 1216.50,703.49 1222.09,703.33 1227.68,703.45 1233.27,703.38 1238.86,703.46 1244.44,703.43 1250.03,703.54 1255.62,703.44 1261.21,703.40 1266.80,703.48 1272.39,703.44 1277.98,703.46 1283.57,703.59 1289.16,703.45 1294.74,703.49 1300.33,703.56 1305.92,703.62 1311.51,703.45 1317.10,703.54 1322.69,703.49 1328.28,703.47 1333.87,703.51 1339.46,703.47 1345.04,703.59 1350.63,703.51 1356.22,703.59 1361.81,703.49 1367.40,703.51 1372.99,703.68 1378.58,703.68 1384.17,703.66 1389.76,703.51 1395.34,703.63 1400.93,703.60 1406.52,703.67 1412.11,703.63 1417.70,703.66"/>
<text class="t" transform="translate(1141.05,775.20) scale(0.979,1)" font-size="30" text-anchor="middle">Epochs</text>
<text class="t" transform="translate(815.00,573.00) rotate(-90)" font-size="30" text-anchor="middle" letter-spacing="0" word-spacing="0">Validation Loss (%)</text>
<text class="pl" x="737.6" y="413.9" font-size="29.2">D</text>
</g>
</svg></body></html>
